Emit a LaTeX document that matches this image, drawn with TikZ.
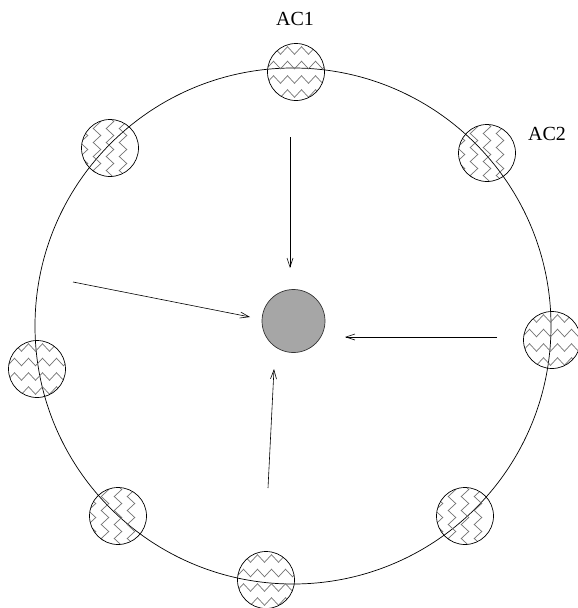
\documentclass[tikz,border=0pt]{standalone}
\usepackage{fontspec}
\setmainfont{Liberation Serif}
\usetikzlibrary{arrows.meta,decorations.pathmorphing}
\tikzset{
  zz/.style={draw=black!55, line width=0.7pt, decorate, decoration={zigzag, segment length=14pt, amplitude=3.8pt}},
  achoriz/.style={circle, draw, line width=0.7pt, minimum size=57pt, inner sep=0pt,
    path picture={
      \foreach \d in {-21.5,-7.5,7,21.5}
        \draw[zz] ([shift={(-40pt,\d pt)}]path picture bounding box.center) -- ([shift={(40pt,\d pt)}]path picture bounding box.center);
    }},
  acvert/.style={circle, draw, line width=0.7pt, minimum size=57pt, inner sep=0pt,
    path picture={
      \foreach \d in {-26,-13,0,13}
        \draw[zz] ([shift={(\d pt,-40pt)}]path picture bounding box.center) -- ([shift={(\d pt,40pt)}]path picture bounding box.center);
    }},
  hub/.style={circle, draw=black!80, fill=black!35, line width=0.7pt, minimum size=63pt, inner sep=0pt},
  flow/.style={line width=0.6pt, -{Straight Barb[length=9pt, width=6pt]}},
  lbl/.style={font=\fontsize{20}{24}\selectfont, inner sep=0pt}
}
\begin{document}
\begin{tikzpicture}[x=1pt, y=-1pt]
\useasboundingbox (0,0) rectangle (578,608);
\node[draw, circle, line width=0.7pt, minimum size=516pt, inner sep=0pt] (ring) at (293,326) {};
\node[achoriz] (ac1) at (296,72) {};
\node[acvert] (ac2) at (487,153) {};
\node[acvert] (tl) at (110,148) {};
\node[achoriz] (r) at (552,340) {};
\node[achoriz] (l) at (37,369) {};
\node[acvert] (bl) at (118,516) {};
\node[achoriz] (b) at (266,580) {};
\node[acvert] (br) at (465,516) {};
\node[hub] (hub) at (293.5,321) {};
\node[lbl] (lab1) at (295,19) {AC1};
\node[lbl] (lab2) at (547,134) {AC2};
\coordinate (s1) at (290,137); \coordinate (e1) at (290,268);
\coordinate (s2) at (73,282); \coordinate (e2) at (250,317);
\coordinate (s3) at (497,337); \coordinate (e3) at (345,337);
\coordinate (s4) at (268,488); \coordinate (e4) at (274,369);
\draw[flow] (s1) -- (e1);
\draw[flow] (s2) -- (e2);
\draw[flow] (s3) -- (e3);
\draw[flow] (s4) -- (e4);
\end{tikzpicture}
\end{document}
